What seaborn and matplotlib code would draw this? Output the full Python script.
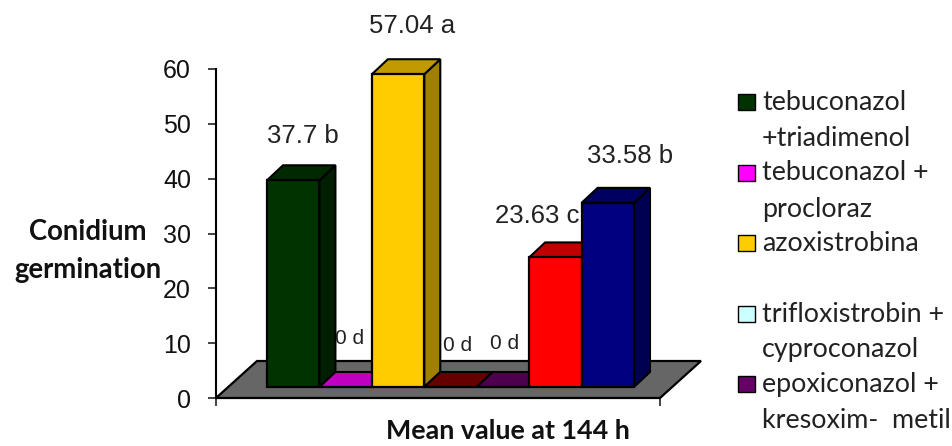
import matplotlib
matplotlib.use("Agg")
import matplotlib.pyplot as plt
from matplotlib.patches import Polygon, Rectangle
from matplotlib.transforms import IdentityTransform
import seaborn as sns

# Data
positions = ["1", "2", "3", "4", "5", "6", "7"]
germination = [37.7, 0, 57.04, 0, 0, 23.63, 33.58]
value_labels = ["37.7 b", "0 d", "57.04 a", "0 d", "0 d", "23.63 c", "33.58 b"]
y_ticks = [0, 10, 20, 30, 40, 50, 60]
legend_entries = [
    ("tebuconazol", "+triadimenol", "#003300"),
    ("tebuconazol +", "procloraz", "#FF00FF"),
    ("azoxistrobina", "", "#FFCC00"),
    ("trifloxistrobin +", "cyproconazol", "#CCFFFF"),
    ("epoxiconazol +", "kresoxim-  metil", "#660066"),
]

# Colours of each bar: front, top and side faces
front_colors = ["#003300", "#FF00FF", "#FFCC00", "#800000", "#660066", "#FF0000", "#000080"]
top_colors = ["#002900", "#C000C0", "#C09A00", "#660000", "#4D004D", "#C00000", "#000060"]
side_colors = ["#001F00", "#800080", "#A08000", "#400000", "#330033", "#800000", "#000050"]

# Label placement relative to the top of each bar (points)
label_offsets = [(7, 32), (3, 35), (10, 35), (5, 30), (1, 31), (-13, 30), (16, 34)]

W, H = 953, 446
DEPTH_X, DEPTH_Y = 16, 15
AXIS_LEFT, AXIS_RIGHT, AXIS_TOP, AXIS_BOTTOM = 216, 660, 69, 398
BAR_LEFT, BAR_RIGHT, BAR_BASE = 267, 634, 387
FLOOR_DX, FLOOR_DY = 41, 37


def pixel_rect(left, top, right, bottom):
    return [left / W, 1 - bottom / H, (right - left) / W, (bottom - top) / H]


sns.set_style("white")
plt.rcParams["font.family"] = ["Liberation Sans", "DejaVu Sans"]
fig = plt.figure(figsize=(W / 100, H / 100), dpi=100, facecolor="white")

# Value axis and floor plate
ax = fig.add_axes(pixel_rect(AXIS_LEFT, AXIS_TOP, AXIS_RIGHT, AXIS_BOTTOM))
ax.set_ylim(0, 60)
ax.set_xlim(0, 1)
ax.set_yticks(y_ticks)
ax.set_xticks([0, 1])
ax.set_xticklabels(["", ""])
ax.tick_params(axis="y", left=True, length=6, width=1.2, color="#222222",
               labelsize=18, pad=12, labelcolor="#111111")
ax.tick_params(axis="x", bottom=True, length=6, width=1.2, color="#222222")
sns.despine(ax=ax, top=True, right=True, bottom=True)
ax.spines["left"].set_linewidth(1.5)
ax.spines["left"].set_color("black")
ax.patch.set_visible(False)

ax_w, ax_h = AXIS_RIGHT - AXIS_LEFT, AXIS_BOTTOM - AXIS_TOP
ax.add_patch(Polygon(
    [(0, 0), (1, 0), (1 + FLOOR_DX / ax_w, FLOOR_DY / ax_h), (FLOOR_DX / ax_w, FLOOR_DY / ax_h)],
    closed=True, transform=ax.transAxes, facecolor="#666666", edgecolor="black",
    linewidth=1.6, clip_on=False, zorder=2))

# Bars share the scale of the value axis, standing further forward on the floor
px_per_unit = ax_h / 60
bar_ax = fig.add_axes(pixel_rect(BAR_LEFT, BAR_BASE - 60 * px_per_unit, BAR_RIGHT, BAR_BASE))
bar_ax.patch.set_visible(False)
sns.barplot(x=positions, y=germination, hue=positions, palette=front_colors, legend=False,
            width=1.0, edgecolor="black", linewidth=1.6, saturation=1, ax=bar_ax)
bar_ax.set_xlim(-0.5, 6.5)
bar_ax.set_ylim(0, 60)
bar_ax.axis("off")

# Extrude every bar into depth
fig.canvas.draw()
to_px = bar_ax.transData.transform
for i, bar in enumerate(bar_ax.patches):
    (x0, y0), (x1, y1) = to_px([(bar.get_x(), 0),
                                (bar.get_x() + bar.get_width(), bar.get_height())])
    z = 3 + i
    bar.set_zorder(z + 0.2)
    bar.set_clip_on(False)
    top = [(x0, y1), (x1, y1), (x1 + DEPTH_X, y1 + DEPTH_Y), (x0 + DEPTH_X, y1 + DEPTH_Y)]
    side = [(x1, y0), (x1 + DEPTH_X, y0 + DEPTH_Y), (x1 + DEPTH_X, y1 + DEPTH_Y), (x1, y1)]
    for verts, color in ((side, side_colors[i]), (top, top_colors[i])):
        bar_ax.add_patch(Polygon(verts, closed=True, transform=IdentityTransform(),
                                 facecolor=color, edgecolor="black", linewidth=1.5,
                                 clip_on=False, zorder=z))

# Value labels
for i, (value, text, offset) in enumerate(zip(germination, value_labels, label_offsets)):
    bar_ax.annotate(text, (i, value), xytext=offset, textcoords="offset points",
                    ha="center", va="center", color="#222222",
                    fontsize=18.5 if value > 0 else 15, zorder=20, annotation_clip=False)

# Axis titles
title_font = ["Lato", "DejaVu Sans"]
fig.text(88 / W, 1 - 232 / H, "Conidium", ha="center", va="center", fontsize=19.8,
         fontweight="bold", family=title_font, color="#111111")
fig.text(88 / W, 1 - 270 / H, "germination", ha="center", va="center", fontsize=19.8,
         fontweight="bold", family=title_font, color="#111111")
fig.text(508 / W, 1 - 439 / H, "Mean value at 144 h", ha="center", va="baseline", fontsize=19.4,
         fontweight="bold", family=title_font, color="#111111")

# Legend
for i, (line1, line2, color) in enumerate(legend_entries):
    y = 102 + 70.5 * i
    fig.add_artist(Rectangle((738 / W, 1 - (y + 8) / H), 17 / W, 16 / H,
                             transform=fig.transFigure, facecolor=color,
                             edgecolor="black", linewidth=1))
    fig.text(762 / W, 1 - (y + 8) / H, line1, ha="left", va="baseline", fontsize=19.4,
             family=title_font, color="#222222")
    if line2:
        fig.text(762 / W, 1 - (y + 44) / H, line2, ha="left", va="baseline", fontsize=19.4,
                 family=title_font, color="#222222")

fig.savefig("out.png", dpi=100)
